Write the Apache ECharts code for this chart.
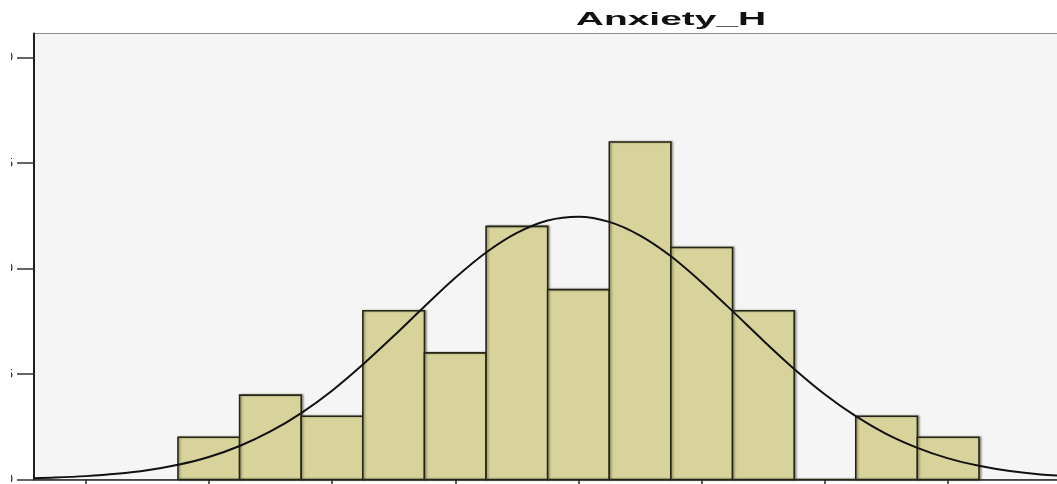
<!DOCTYPE html>
<html>
<head>
<meta charset="utf-8">
<script src="https://cdn.jsdelivr.net/npm/echarts@6/dist/echarts.min.js"></script>
<style>
  html, body { margin: 0; padding: 0; background: #fff; }
  #chart { width: 1057px; height: 484px; }
</style>
</head>
<body>
<div id="chart"></div>
<script>
// histogram bins (centre of each bin, width 1) and counts
const binCenters = [1, 2, 3, 4, 5, 6, 7, 8, 9, 10, 11, 12, 13];
const counts = [2, 4, 3, 8, 6, 12, 9, 16, 11, 8, 0, 3, 2];

// fitted normal curve
const curveX = [-1.84, -1.5, -1, -0.5, 0, 0.5, 1, 1.5, 2, 2.5, 3, 3.5, 4, 4.5, 5, 5.5, 6, 6.5, 7,
  7.5, 8, 8.5, 9, 9.5, 10, 10.5, 11, 11.5, 12, 12.5, 13, 13.5, 14, 14.5, 14.93];
const curveY = [0.06, 0.09, 0.16, 0.27, 0.44, 0.70, 1.07, 1.59, 2.28, 3.15, 4.21, 5.45, 6.80, 8.20, 9.56, 10.76, 11.69, 12.28, 12.46,
  12.21, 11.56, 10.58, 9.34, 7.98, 6.58, 5.24, 4.03, 3.00, 2.15, 1.50, 1.00, 0.65, 0.40, 0.24, 0.17];

const xTicks = [-1, 1, 3, 5, 7, 9, 11, 13];
const yTicks = [0, 5, 10, 15, 20];

const chart = echarts.init(document.getElementById('chart'));

const option = {
  animation: false,
  backgroundColor: '#ffffff',
  grid: {
    left: 34, right: -10, top: 33.5, bottom: 4.5,
    outerBoundsMode: 'none',
    containLabel: false,
    show: true,
    backgroundColor: '#f5f5f5',
    borderColor: '#8c8c8c',
    borderWidth: 1
  },
  xAxis: {
    type: 'value',
    min: -1.837,
    max: 14.928,
    axisLine: { onZero: false, lineStyle: { color: '#2a2a2a', width: 1.5 } },
    axisTick: { show: true, length: 6, customValues: xTicks, lineStyle: { color: '#2a2a2a', width: 1.5 } },
    axisLabel: { show: false },
    splitLine: { show: false }
  },
  yAxis: {
    type: 'value',
    min: 0,
    max: 21.14,
    axisLine: { show: true, onZero: false, lineStyle: { color: '#1e1e1e', width: 2 } },
    axisTick: { show: true, length: 17, customValues: yTicks, lineStyle: { color: '#333', width: 1.5 } },
    axisLabel: {
      show: true, customValues: yTicks, margin: 21,
      color: '#111', fontSize: 13, fontFamily: 'Liberation Sans'
    },
    splitLine: { show: false }
  },
  graphic: [
    {
      type: 'rect', z: 100, left: 0, top: 0,
      shape: { width: 11, height: 484 },
      style: { fill: '#ffffff' }
    },
    {
      type: 'text', z: 100, x: 671, y: 20, scaleX: 2.05,
      style: {
        text: 'Anxiety_H',
        font: 'bold 19px "Liberation Sans", Arial, sans-serif',
        fill: '#111',
        textAlign: 'center',
        textVerticalAlign: 'middle'
      }
    }
  ],
  series: [
    {
      type: 'custom',
      data: binCenters.map((c, i) => [c, counts[i]]),
      renderItem: function (params, api) {
        const c = api.value(0);
        const topLeft = api.coord([c - 0.5, api.value(1)]);
        const bottomRight = api.coord([c + 0.5, 0]);
        return {
          type: 'rect',
          shape: {
            x: topLeft[0], y: topLeft[1],
            width: bottomRight[0] - topLeft[0],
            height: bottomRight[1] - topLeft[1]
          },
          style: {
            fill: '#d7d39b',
            stroke: '#252517',
            lineWidth: 1.6,
            shadowBlur: 2,
            shadowOffsetX: 1.5,
            shadowColor: 'rgba(60,60,30,0.45)'
          }
        };
      },
      z: 2
    },
    {
      type: 'line',
      data: curveX.map((x, i) => [x, curveY[i]]),
      smooth: 0.3,
      showSymbol: false,
      lineStyle: { color: '#111', width: 2 },
      z: 3
    }
  ]
};

chart.setOption(option);
</script>
</body>
</html>
